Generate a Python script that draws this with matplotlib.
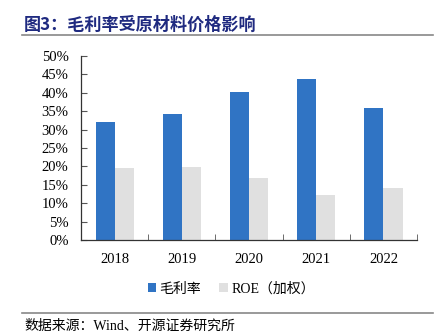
import matplotlib
matplotlib.use('Agg')
import matplotlib.pyplot as plt
from matplotlib.lines import Line2D
import numpy as np

plt.rcParams['font.family'] = ['Liberation Serif', 'Noto Sans CJK SC', 'DejaVu Sans']

# data
years = ['2018', '2019', '2020', '2021', '2022']
gross_margin = [0.321, 0.342, 0.402, 0.438, 0.359]
roe_weighted = [0.197, 0.198, 0.168, 0.123, 0.142]

blue = '#3074C4'
grey = '#E0E0E0'

fig = plt.figure(figsize=(4.48, 3.36), dpi=100)
ax = fig.add_axes([0.181, 0.285, 0.750, 0.549])

x = np.arange(len(years))
w = 0.285
ax.bar(x - w / 2, gross_margin, w, color=blue, label='毛利率')
ax.bar(x + w / 2, roe_weighted, w, color=grey, label='ROE（加权）')

ax.set_xlim(-0.5, len(years) - 0.5)
ax.set_ylim(0, 0.5)
ax.set_yticks(np.arange(0, 0.51, 0.05))
ax.set_yticklabels([f'{v}%' for v in range(0, 51, 5)])
ax.set_xticks(x)
ax.set_xticklabels(years)
ax.set_xticks(np.arange(-0.5, len(years)), minor=True)
ax.tick_params(axis='x', which='major', length=0, pad=9, labelsize=10.5)
ax.tick_params(axis='x', which='minor', direction='in', length=4, color='#555555')
ax.tick_params(axis='y', direction='in', length=4, pad=9, labelsize=10.5, color='#555555')

for s in ['top', 'right']:
    ax.spines[s].set_visible(False)
for s in ['left', 'bottom']:
    ax.spines[s].set_color('#333333')
    ax.spines[s].set_linewidth(0.9)

leg = fig.legend(loc='center', bbox_to_anchor=(0.516, 0.140), ncol=2, frameon=False,
                 fontsize=10, handlelength=0.6, handleheight=0.6, columnspacing=1.3,
                 handletextpad=0.25)

# title and source
fig.text(0.054, 0.925, '图3：毛利率受原材料价格影响', fontsize=12.3, fontweight='bold',
         color='#1F2A80', va='center', family=['Noto Sans CJK SC', 'DejaVu Sans'])
fig.add_artist(Line2D([0.049, 0.967], [0.895, 0.895], color='#888888', linewidth=1.2))
fig.add_artist(Line2D([0.049, 0.967], [0.068, 0.068], color='#888888', linewidth=1.2))
fig.text(0.054, 0.030, '数据来源：Wind、开源证券研究所', fontsize=10, color='black', va='center')

fig.savefig('out.png', dpi=100)
